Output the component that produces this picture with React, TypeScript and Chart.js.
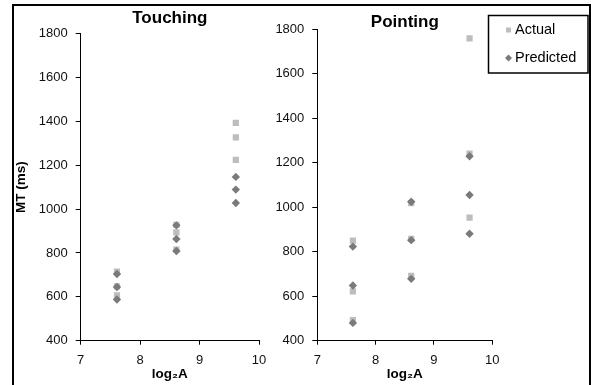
import React, { useEffect, useRef } from 'react';
import { Chart, registerables } from 'chart.js';

Chart.register(...registerables);

// ---- data ----
const logA = [7.61, 7.61, 7.61, 8.61, 8.61, 8.61, 9.61, 9.61, 9.61];
const touchingActual = [715, 648, 607, 928, 894, 815, 1393, 1327, 1225];
const touchingPredicted = [704, 645, 588, 926, 864, 809, 1147, 1089, 1028];
const pointingActual = [850, 622, 493, 1019, 858, 691, 1759, 1241, 953];
const pointingPredicted = [823, 648, 480, 1025, 852, 678, 1229, 1055, 881];
const seriesNames = ['Actual', 'Predicted'];
const panelTitles = ['Touching', 'Pointing'];
const xMin = 7, xMax = 10, xStep = 1;
const yMin = 400, yMax = 1800, yStep = 200;
const xTitle = 'log\u2082A';
const yTitle = 'MT (ms)';

const FONT = '"Liberation Sans", Arial, sans-serif';
const ACTUAL_COLOR = '#BDBDBD';
const PRED_COLOR = '#7A7A7A';

const pts = (xs: number[], ys: number[]) => xs.map((x, i) => ({ x, y: ys[i] }));

const boxLegend = {
  id: 'boxLegend',
  afterDraw(chart: any) {
    const ctx = chart.ctx as CanvasRenderingContext2D;
    ctx.save();
    ctx.strokeStyle = '#000';
    ctx.lineWidth = 1.5;
    ctx.strokeRect(218.5, 15.5, 99.5, 57.5);
    ctx.fillStyle = ACTUAL_COLOR;
    ctx.fillRect(236, 27.5, 5, 5);
    ctx.fillStyle = PRED_COLOR;
    ctx.beginPath();
    ctx.moveTo(238.5, 54.5);
    ctx.lineTo(242, 58);
    ctx.lineTo(238.5, 61.5);
    ctx.lineTo(235, 58);
    ctx.closePath();
    ctx.fill();
    ctx.fillStyle = '#000';
    ctx.font = '14.5px ' + FONT;
    ctx.textBaseline = 'middle';
    ctx.textAlign = 'left';
    ctx.fillText(chart.data.datasets[0].label, 245, 30);
    ctx.fillText(chart.data.datasets[1].label, 245, 58);
    ctx.restore();
  },
};

function makeConfig(opts: {
  title: string;
  actual: number[];
  predicted: number[];
  yWidth: number;
  showYTitle: boolean;
  padRight: number;
  titlePad: { top: number; bottom: number };
  legend: boolean;
}): any {
  const tickFont = { family: FONT, size: 13 };
  return {
    type: 'scatter',
    data: {
      datasets: [
        {
          label: seriesNames[0],
          data: pts(logA, opts.actual),
          pointStyle: 'rect',
          pointRadius: 4.4,
          pointBorderWidth: 0,
          backgroundColor: ACTUAL_COLOR,
          borderColor: ACTUAL_COLOR,
          order: 1,
        },
        {
          label: seriesNames[1],
          data: pts(logA, opts.predicted),
          pointStyle: 'rectRot',
          pointRadius: 4.2,
          pointBorderWidth: 0,
          backgroundColor: PRED_COLOR,
          borderColor: PRED_COLOR,
          order: 0,
        },
      ],
    },
    options: {
      responsive: false,
      animation: false,
      events: [],
      layout: { padding: { left: 0, right: opts.padRight, top: 0, bottom: 0 } },
      plugins: {
        legend: { display: false },
        tooltip: { enabled: false },
        title: {
          display: true,
          text: opts.title,
          fullSize: false,
          color: '#000',
          font: { family: FONT, size: 17, weight: 'bold', lineHeight: 1 },
          padding: opts.titlePad,
        },
      },
      scales: {
        x: {
          type: 'linear',
          min: xMin,
          max: xMax,
          ticks: {
            stepSize: xStep,
            font: tickFont,
            color: '#111',
            padding: 8,
            callback: (v: number) => String(v),
          },
          grid: { drawOnChartArea: false, drawTicks: true, tickLength: 4, color: '#000' },
          border: { display: true, color: '#000', width: 1 },
          title: {
            display: true,
            text: xTitle,
            color: '#000',
            font: { family: FONT, size: 13.5, weight: 'bold' },
            padding: { top: 0, bottom: 3 },
          },
          afterFit: (s: any) => {
            s.height = 44.3;
          },
        },
        y: {
          type: 'linear',
          min: yMin,
          max: yMax,
          ticks: {
            stepSize: yStep,
            font: tickFont,
            color: '#111',
            padding: 8,
            callback: (v: number) => String(v),
          },
          grid: { drawOnChartArea: false, drawTicks: true, tickLength: 5, color: '#000' },
          border: { display: true, color: '#000', width: 1 },
          title: {
            display: opts.showYTitle,
            text: yTitle,
            color: '#000',
            font: { family: FONT, size: 13.5, weight: 'bold' },
            padding: { top: 13, bottom: 0 },
          },
          afterFit: (s: any) => {
            s.width = opts.yWidth;
          },
        },
      },
    },
    plugins: opts.legend ? [boxLegend] : [],
  };
}

export default function App() {
  const leftRef = useRef<HTMLCanvasElement>(null);
  const rightRef = useRef<HTMLCanvasElement>(null);

  useEffect(() => {
    const left = new Chart(
      leftRef.current!,
      makeConfig({
        title: panelTitles[0],
        actual: touchingActual,
        predicted: touchingPredicted,
        yWidth: 80.7,
        showYTitle: true,
        padRight: 41,
        titlePad: { top: 10.2, bottom: 6.5 },
        legend: false,
      })
    );
    const right = new Chart(
      rightRef.current!,
      makeConfig({
        title: panelTitles[1],
        actual: pointingActual,
        predicted: pointingPredicted,
        yWidth: 47.3,
        showYTitle: false,
        padRight: 98.7,
        titlePad: { top: 14, bottom: -1.7 },
        legend: true,
      })
    );
    return () => {
      left.destroy();
      right.destroy();
    };
  }, []);

  return (
    <div
      style={{
        position: 'fixed',
        left: 0,
        top: 0,
        width: 591,
        height: 385,
        overflow: 'hidden',
        background: '#fff',
      }}
    >
      <div
        style={{
          position: 'absolute',
          left: 12,
          top: 4,
          width: 575,
          height: 400,
          border: '2px solid #000',
        }}
      />
      <canvas ref={leftRef} width={300} height={385} style={{ position: 'absolute', left: 0, top: 0 }} />
      <canvas ref={rightRef} width={321} height={385} style={{ position: 'absolute', left: 270, top: 0 }} />
    </div>
  );
}
